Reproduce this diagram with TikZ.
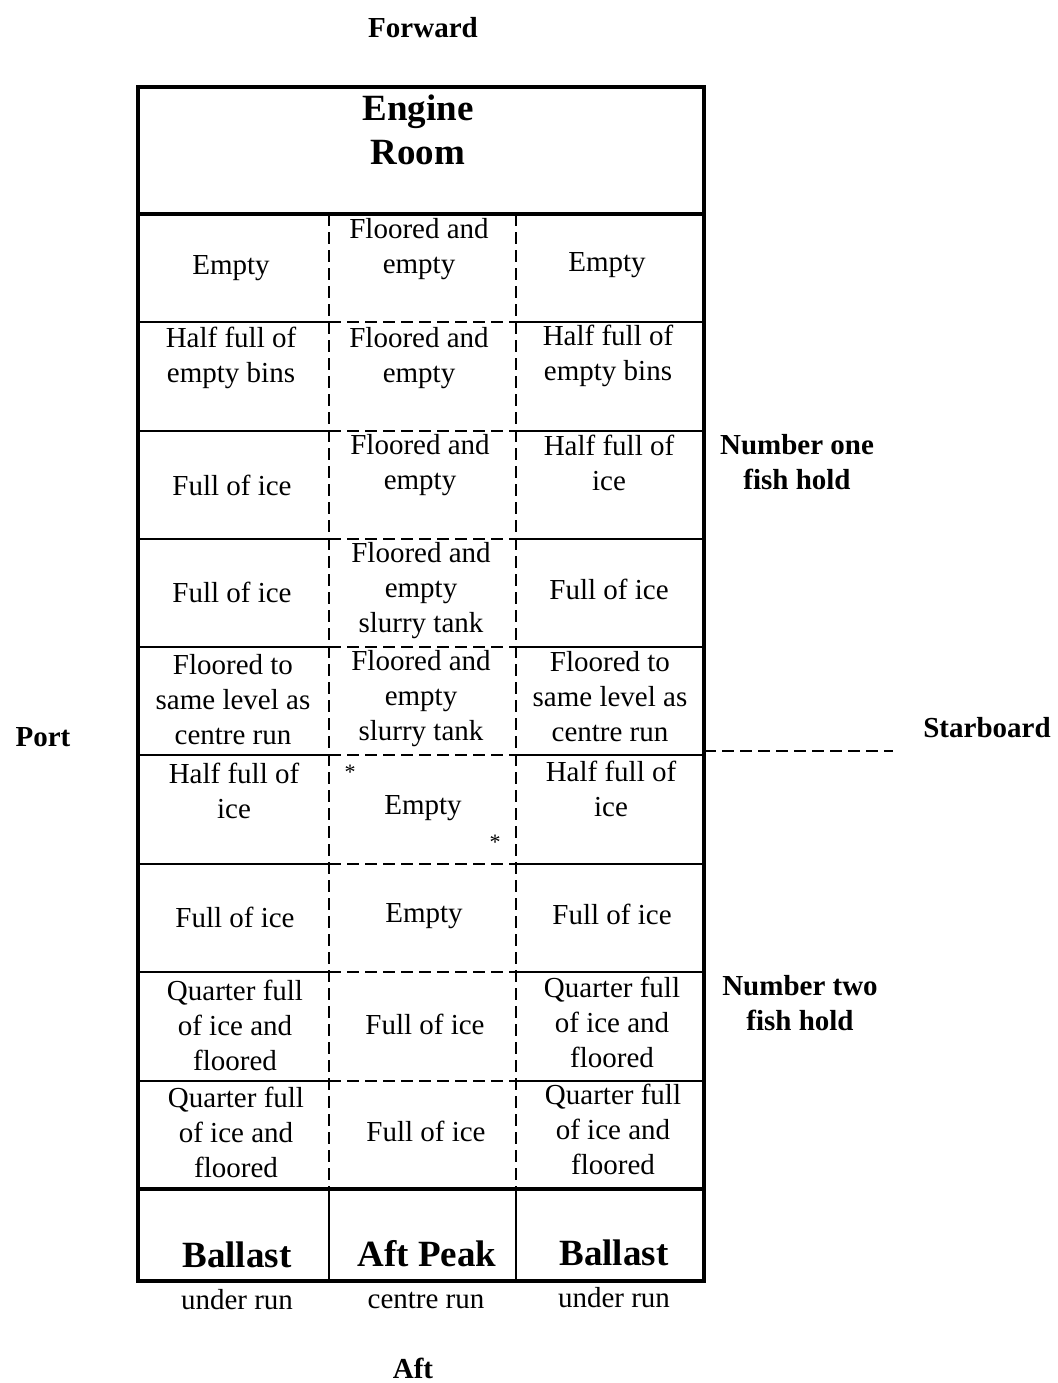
\documentclass[tikz,border=0pt]{standalone}
\usepackage{fontspec}
\setmainfont{Liberation Serif}
\usetikzlibrary{positioning}

\begin{document}
\begin{tikzpicture}[x=1pt,y=-1pt,
    cell/.style={align=center, inner sep=0pt, font=\fontsize{29}{35}\selectfont},
    heading/.style={align=center, inner sep=0pt, font=\fontsize{29}{35}\selectfont\bfseries},
    bigheading/.style={align=center, inner sep=0pt, font=\fontsize{37}{44}\selectfont\bfseries},
    wall/.style={line width=3.4pt},
    divider/.style={line width=1.5pt, dash pattern=on 12pt off 6pt}]
    \useasboundingbox (0,0) rectangle (1057,1383);
    \draw[wall] (138,87) rectangle (704,1281);
    \draw[wall] (138,214) -- (704,214);
    \draw[wall] (138,1189) -- (704,1189);
    \foreach \y in {322,431,539,647,755,864,972,1081} {
        \draw[wall, line width=2.6pt] (138,\y) -- (329,\y);
        \draw[wall, line width=2.6pt] (516,\y) -- (704,\y);
        \draw[divider] (329,\y) -- (516,\y);
    }
    \draw[divider] (329,214) -- (329,1189);
    \draw[divider] (516,214) -- (516,1189);
    \draw[wall, line width=2.6pt] (329,1189) -- (329,1281);
    \draw[wall, line width=2.6pt] (516,1189) -- (516,1281);
    \draw[divider] (704,751) -- (893,751);

    \node[heading] (forward) at (423,28) {Forward};
    \node[heading] (aft) at (413,1368) {Aft};
    \node[heading] (port) at (43,737) {Port};
    \node[heading] (starboard) at (987,728) {Starboard};
    \node[heading] (holdone) at (797,462) {Number one\\fish hold};
    \node[heading] (holdtwo) at (800,1003) {Number two\\fish hold};
    \node[bigheading] (engine) at (418,130) {Engine\\Room};

    \node[cell] (r1p) at (231,268) {Empty};
    \node[cell] (r1c) at (419,249) {Floored and\\empty};
    \node[cell] (r1s) at (607,265) {Empty};
    \node[cell] (r2p) at (231,358) {Half full of\\empty bins};
    \node[cell] (r2c) at (419,358) {Floored and\\empty};
    \node[cell] (r2s) at (608,356) {Half full of\\empty bins};
    \node[cell] (r3p) at (232,485) {Full of ice};
    \node[cell] (r3c) at (420,465) {Floored and\\empty};
    \node[cell] (r3s) at (609,463) {Half full of\\ice};
    \node[cell] (r4p) at (232,592) {Full of ice};
    \node[cell] (r4c) at (421,591) {Floored and\\empty\\slurry tank};
    \node[cell] (r4s) at (609,589) {Full of ice};
    \node[cell] (r5p) at (233,700) {Floored to\\same level as\\centre run};
    \node[cell] (r5c) at (421,699) {Floored and\\empty\\slurry tank};
    \node[cell] (r5s) at (610,697) {Floored to\\same level as\\centre run};
    \node[cell] (r6p) at (234,791) {Half full of\\ice};
    \node[cell] (r6c) at (423,808) {Empty};
    \node[cell] (r6s) at (611,789) {Half full of\\ice};
    \node[cell, font=\fontsize{22}{26}\selectfont] (star1) at (350,772) {*};
    \node[cell, font=\fontsize{22}{26}\selectfont] (star2) at (495,842) {*};
    \node[cell] (r7p) at (235,917) {Full of ice};
    \node[cell] (r7c) at (424,916) {Empty};
    \node[cell] (r7s) at (612,914) {Full of ice};
    \node[cell] (r8p) at (235,1025) {Quarter full\\of ice and\\floored};
    \node[cell] (r8c) at (425,1024) {Full of ice};
    \node[cell] (r8s) at (612,1022) {Quarter full\\of ice and\\floored};
    \node[cell] (r9p) at (236,1132) {Quarter full\\of ice and\\floored};
    \node[cell] (r9c) at (426,1131) {Full of ice};
    \node[cell] (r9s) at (613,1129) {Quarter full\\of ice and\\floored};

    \node[bigheading] (ballastp) at (237,1255) {Ballast};
    \node[bigheading] (peak) at (427,1254) {Aft Peak};
    \node[bigheading] (ballasts) at (614,1253) {Ballast};
    \node[cell] (underp) at (237,1300) {under run};
    \node[cell] (centre) at (426,1300) {centre run};
    \node[cell] (unders) at (614,1298) {under run};
\end{tikzpicture}
\end{document}
